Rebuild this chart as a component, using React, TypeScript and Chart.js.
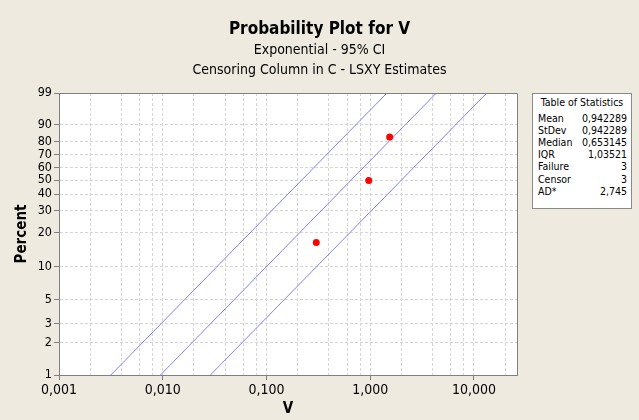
import React, { useEffect, useRef } from 'react';
import { Chart, registerables, Scale } from 'chart.js';

Chart.register(...registerables);

// ---- data ----
const percentTicks = [1, 2, 3, 5, 10, 20, 30, 40, 50, 60, 70, 80, 90, 99];
const vMajorTicks = [0.001, 0.01, 0.1, 1, 10];
const vTickLabels = ['0,001', '0,010', '0,100', '1,000', '10,000'];
const vGridTicks = [
  0.001, 0.002, 0.004, 0.006, 0.008,
  0.01, 0.02, 0.04, 0.06, 0.08,
  0.1, 0.2, 0.4, 0.6, 0.8,
  1, 2, 4, 6, 8,
  10, 20,
];
const failureV = [0.302, 0.968, 1.54];
const failurePct = [16.4, 49.8, 83.0];
// line endpoints (V at 1% and 99%)
const linePct = [1, 99];
const lowerCIV = [0.00316, 1.45];
const fitV = [0.0095, 4.34];
const upperCIV = [0.0288, 13.3];

const statNames = ['Mean', 'StDev', 'Median', 'IQR', 'Failure', 'Censor', 'AD*'];
const statValues = ['0,942289', '0,942289', '0,653145', '1,03521', '3', '3', '2,745'];

const FONT = '"DejaVu Sans Condensed", "DejaVu Sans", sans-serif';

const toT = (p: number) => Math.log(-Math.log(1 - p / 100));
const fromT = (t: number) => 100 * (1 - Math.exp(-Math.exp(t)));

class ProbabilityScale extends (Scale as any) {
  static id = 'probability';
  static defaults = {};
  determineDataLimits() {
    this.min = this.options.min;
    this.max = this.options.max;
  }
  buildTicks() {
    return percentTicks.map((v) => ({ value: v }));
  }
  getLabelForValue(v: number) {
    return String(v);
  }
  getPixelForValue(v: number) {
    const t0 = toT(this.min);
    const t1 = toT(this.max);
    return this.getPixelForDecimal((toT(v) - t0) / (t1 - t0));
  }
  getValueForPixel(px: number) {
    const t0 = toT(this.min);
    const t1 = toT(this.max);
    return fromT(t0 + this.getDecimalForPixel(px) * (t1 - t0));
  }
}
Chart.register(ProbabilityScale as any);

const plotFrame = {
  id: 'plotFrame',
  beforeDraw(chart: any) {
    const { ctx, chartArea } = chart;
    ctx.save();
    ctx.fillStyle = '#ffffff';
    ctx.fillRect(chartArea.left, chartArea.top, chartArea.right - chartArea.left, chartArea.bottom - chartArea.top);
    ctx.restore();
  },
  afterDraw(chart: any) {
    const { ctx, chartArea } = chart;
    ctx.save();
    ctx.setLineDash([]);
    ctx.strokeStyle = '#808080';
    ctx.lineWidth = 1;
    ctx.beginPath();
    ctx.moveTo(chartArea.left, chartArea.top + 0.5);
    ctx.lineTo(chartArea.right + 0.5, chartArea.top + 0.5);
    ctx.lineTo(chartArea.right + 0.5, chartArea.bottom);
    ctx.stroke();
    ctx.restore();
  },
};

const mkLine = (xs: number[]) => xs.map((x, i) => ({ x, y: linePct[i] }));

export default function App() {
  const ref = useRef<HTMLCanvasElement>(null);
  useEffect(() => {
    if (!ref.current) return;
    const lineStyle = {
      showLine: true,
      borderColor: 'rgb(130,130,255)',
      backgroundColor: 'rgb(130,130,255)',
      borderWidth: 1,
      pointRadius: 0,
      fill: false,
      tension: 0,
    };
    const chart = new Chart(ref.current, {
      type: 'scatter',
      data: {
        datasets: [
          {
            label: 'Failures',
            data: failureV.map((x, i) => ({ x, y: failurePct[i] })),
            pointRadius: 3.5,
            backgroundColor: '#ff0000',
            borderColor: '#ff0000',
            borderWidth: 0,
          },
          { label: 'Lower', data: mkLine(lowerCIV), ...lineStyle },
          { label: 'Fit', data: mkLine(fitV), ...lineStyle },
          { label: 'Upper', data: mkLine(upperCIV), ...lineStyle },
        ] as any,
      },
      options: {
        animation: false,
        responsive: false,
        layout: { padding: { top: 93, right: 122, left: 0, bottom: 0 } },
        plugins: { legend: { display: false }, tooltip: { enabled: false }, title: { display: false } },
        scales: {
          x: {
            type: 'logarithmic',
            position: 'bottom',
            min: 0.001,
            max: 26,
            afterBuildTicks: (s: any) => {
              s.ticks = vGridTicks.map((v) => ({ value: v }));
            },
            afterFit: (s: any) => {
              s.height = 45;
            },
            ticks: {
              autoSkip: false,
              maxRotation: 0,
              color: '#000',
              padding: 2,
              font: { family: FONT, size: 14 },
              callback: (v: any) => {
                const i = vMajorTicks.indexOf(Number(v));
                return i >= 0 ? vTickLabels[i] : '';
              },
            },
            grid: {
              color: '#d6d6d6',
              tickLength: 5,
              tickColor: (c: any) =>
                c.tick && vMajorTicks.indexOf(c.tick.value) >= 0 ? '#808080' : 'rgba(0,0,0,0)',
            },
            border: { color: '#808080', dash: [3, 2] },
            title: {
              display: true,
              text: 'V',
              color: '#000',
              font: { family: FONT, size: 15, weight: 'bold' },
              padding: { top: 0, bottom: 2 },
            },
          } as any,
          y: {
            type: 'probability',
            position: 'left',
            min: 1,
            max: 99,
            afterFit: (s: any) => {
              s.width = 59;
            },
            ticks: {
              autoSkip: false,
              color: '#000',
              padding: 2,
              font: { family: FONT, size: 12.5 },
            },
            grid: { color: '#d6d6d6', tickLength: 5, tickColor: '#808080' },
            border: { color: '#808080', dash: [3, 2] },
            title: {
              display: true,
              text: 'Percent',
              color: '#000',
              font: { family: FONT, size: 15, weight: 'bold' },
              padding: { top: 13, bottom: 0 },
            },
          } as any,
        },
      },
      plugins: [plotFrame],
    });
    return () => chart.destroy();
  }, []);

  const abs = (s: React.CSSProperties): React.CSSProperties => ({ position: 'absolute', ...s });

  return (
    <div
      style={{
        position: 'fixed',
        left: 0,
        top: 0,
        width: 639,
        height: 420,
        background: '#eeeae0',
        fontFamily: FONT,
        color: '#000',
        overflow: 'hidden',
      }}
    >
      <canvas ref={ref} width={639} height={420} style={{ position: 'absolute', left: 0, top: 0 }} />
      <div style={abs({ left: 0, width: 639, top: 18, lineHeight: '20px', fontSize: 17, fontWeight: 'bold', textAlign: 'center' })}>
        Probability Plot for V
      </div>
      <div style={abs({ left: 0, width: 639, top: 39, lineHeight: '20px', fontSize: 14, textAlign: 'center' })}>
        Exponential - 95% CI
      </div>
      <div style={abs({ left: 0, width: 639, top: 59, lineHeight: '20px', fontSize: 14, textAlign: 'center' })}>
        Censoring Column in C - LSXY Estimates
      </div>
      <div
        style={abs({
          left: 532,
          top: 93,
          width: 100,
          height: 116,
          boxSizing: 'border-box',
          background: '#ffffff',
          border: '1px solid #8a8a8a',
          fontSize: 10.5,
        })}
      >
        <div style={abs({ left: 0, width: 98, top: 2, lineHeight: '12px', textAlign: 'center' })}>Table of Statistics</div>
        {statNames.map((n, i) => (
          <React.Fragment key={n}>
            <div style={abs({ left: 5, top: 17.5 + 12.2 * i, lineHeight: '12px' })}>{n}</div>
            <div style={abs({ right: 4, top: 17.5 + 12.2 * i, lineHeight: '12px', textAlign: 'right' })}>{statValues[i]}</div>
          </React.Fragment>
        ))}
      </div>
    </div>
  );
}
